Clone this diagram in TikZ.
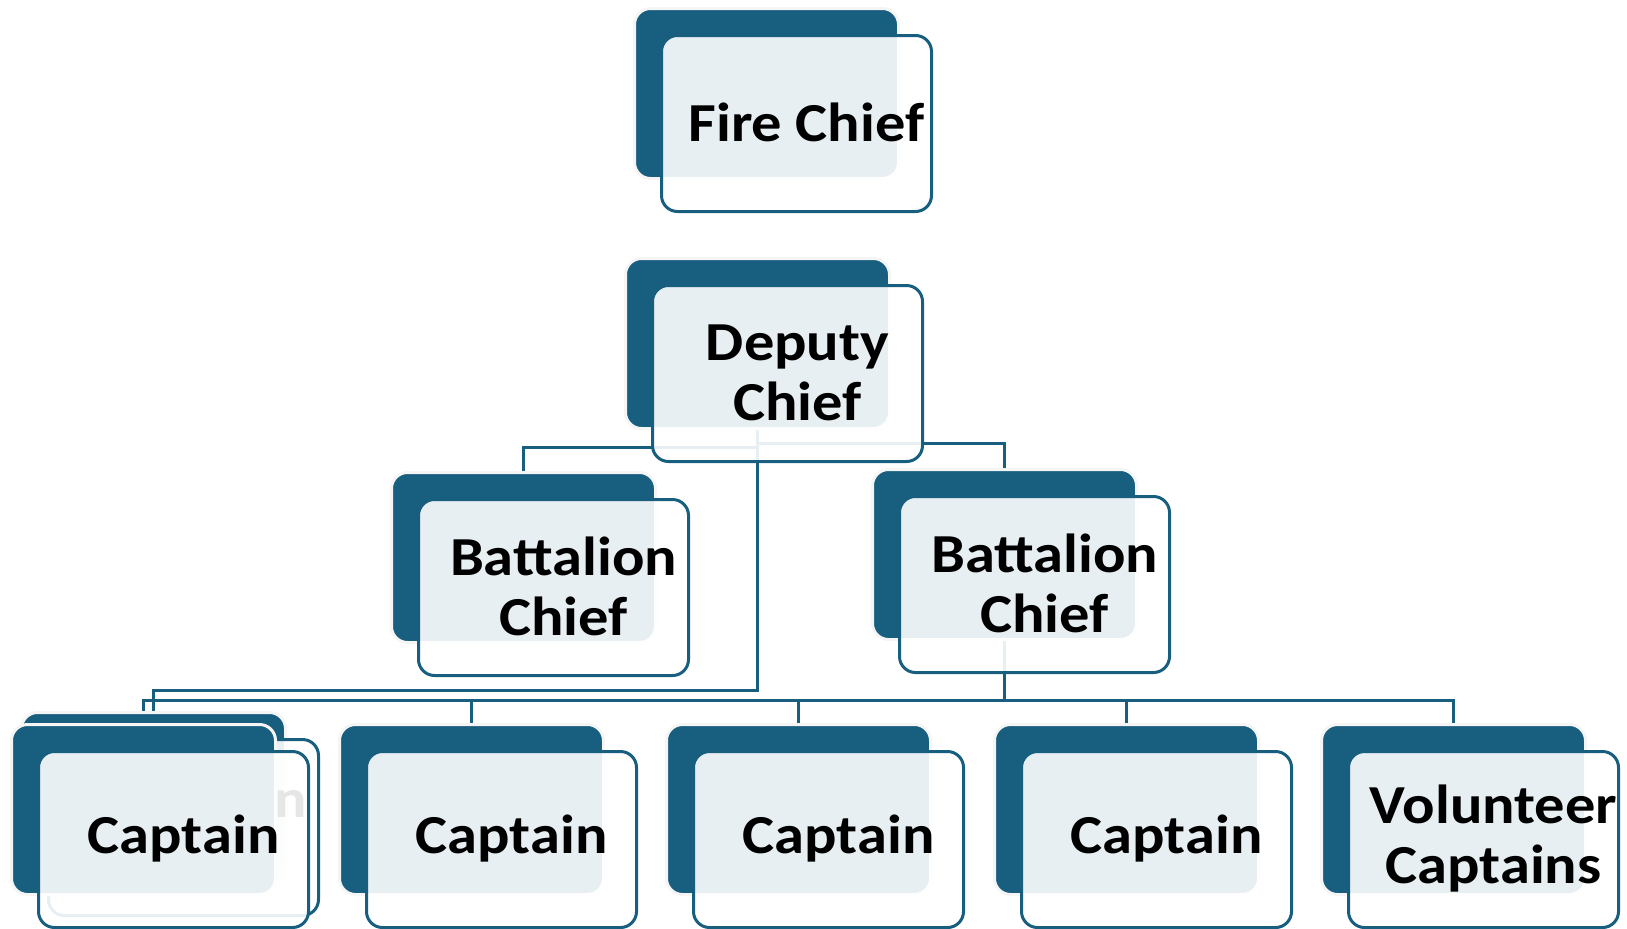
\documentclass[tikz,border=0pt]{standalone}
\usepackage{fontspec}
\setmainfont{Carlito}[FakeStretch=1.1]
\usetikzlibrary{backgrounds}
\definecolor{chartblue}{RGB}{24,94,127}

\newcommand{\chartbox}[4]{%
  \node[backbox] (#1) at (#2,#3) {};
  \node[frontbox] (#1f) at ([shift={(27,27)}]#1.north west) {};
  \node[boxtext] (#1t) at ([shift={(10,-1)}]#1f.center) {#4};
}

\begin{document}
\begin{tikzpicture}[x=0.5pt,y=-0.5pt,
    backbox/.style={anchor=north west,rectangle,rounded corners=8pt,inner sep=0pt,
      minimum width=132pt,minimum height=85pt,fill=chartblue,draw=black!4,line width=1.5pt},
    frontbox/.style={anchor=north west,rectangle,rounded corners=8pt,inner sep=0pt,
      minimum width=135pt,minimum height=88pt,fill=white,fill opacity=0.9,
      draw=chartblue,draw opacity=1,line width=1.5pt},
    boxtext/.style={align=center,inner sep=0pt,text=black,
      font=\bfseries\fontsize{27.5}{30}\selectfont},
    link/.style={draw=chartblue,line width=1.5pt}]
    \useasboundingbox (0,0) rectangle (1627,928);
    \chartbox{fire}{633}{7}{Fire Chief}
    \chartbox{dep}{624}{257}{Deputy\\Chief}
    \chartbox{bcl}{390}{471}{Battalion\\Chief}
    \chartbox{bcr}{871}{468}{Battalion\\Chief}
    \node[backbox] (c0) at (20,711) {};
    \node[frontbox] (c0f) at ([shift={(27,27)}]c0.north west) {};
    \node[boxtext] (c0t) at (291,804) {n};
    \chartbox{c1}{10}{723}{Captain}
    \chartbox{c2}{338}{723}{Captain}
    \chartbox{c3}{665}{723}{Captain}
    \chartbox{c4}{993}{723}{Captain}
    \chartbox{c5}{1320}{723}{Volunteer\\Captains}
    \begin{scope}[on background layer]
        \draw[link] (dep.south) -- ++(0,17) -| (bcl.north);
        \draw[link] (dep.south) -- ++(0,13) -| (bcr.north);
        \draw[link] (dep.south) -- ++(0,260) -| (c0.north);
        \foreach \c in {c1,c2,c3,c4,c5}
            \draw[link] (bcr.south) -- ++(0,59) -| (\c.north);
    \end{scope}
\end{tikzpicture}
\end{document}
